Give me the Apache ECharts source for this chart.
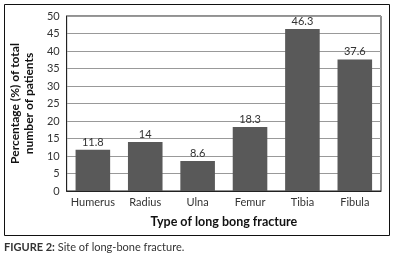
<!DOCTYPE html>
<html><head><meta charset="utf-8">
<script src="https://cdn.jsdelivr.net/npm/echarts@6/dist/echarts.min.js"></script>
<style>html,body{margin:0;padding:0;background:#fff}#c{width:395px;height:261px}</style>
</head><body><div id="c"></div>
<script>
const categories = ["Humerus", "Radius", "Ulna", "Femur", "Tibia", "Fibula"];
const values = [11.8, 14, 8.6, 18.3, 46.3, 37.6];
const yTicks = [0, 5, 10, 15, 20, 25, 30, 35, 40, 45, 50];

const chart = echarts.init(document.getElementById('c'), null, {renderer: 'canvas'});
const F = 'Lato, "Open Sans", sans-serif';
chart.setOption({
  animation: false,
  backgroundColor: '#fff',
  grid: {left: 62, right: 14, top: 16, bottom: 70, show: true, borderColor: '#222', borderWidth: 1},
  xAxis: {
    type: 'category', data: categories,
    axisLine: {show: true, lineStyle: {color: '#222'}},
    axisTick: {show: false},
    axisLabel: {color: '#333', fontFamily: F, fontSize: 11, margin: 6, interval: 0},
    name: 'Type of long bong fracture', nameLocation: 'middle', nameGap: 24,
    nameTextStyle: {color: '#111', fontFamily: F, fontSize: 12.5, fontWeight: 'bold'}
  },
  yAxis: {
    type: 'value', min: yTicks[0], max: yTicks[yTicks.length - 1], interval: 5,
    axisLine: {show: true, lineStyle: {color: '#222'}},
    axisTick: {show: false},
    splitLine: {lineStyle: {color: '#999', width: 1}},
    axisLabel: {color: '#333', fontFamily: F, fontSize: 11, margin: 7},
    name: 'Percentage (%) of total\nnumber of patients', nameLocation: 'middle', nameGap: 19,
    nameTextStyle: {color: '#111', fontFamily: F, fontSize: 12, fontWeight: 'bold', lineHeight: 14}
  },
  series: [{
    type: 'bar', data: values, barWidth: '66%',
    itemStyle: {color: '#595959'},
    label: {show: true, position: 'top', distance: 2, color: '#333', fontFamily: F, fontSize: 11}
  }],
  graphic: [
    {type: 'rect', shape: {x: 4.5, y: 4.5, width: 385, height: 231}, style: {fill: null, stroke: '#111', lineWidth: 1}, silent: true, z: -1},
    {type: 'text', left: 4, top: 242, style: {
      rich: {b: {fontWeight: 'bold', fontSize: 11, fontFamily: F, fill: '#333'}, n: {fontSize: 11, fontFamily: F, fill: '#333'}},
      text: '{b|FIGURE 2:}{n| Site of long-bone fracture.}'
    }}
  ]
});
</script></body></html>
